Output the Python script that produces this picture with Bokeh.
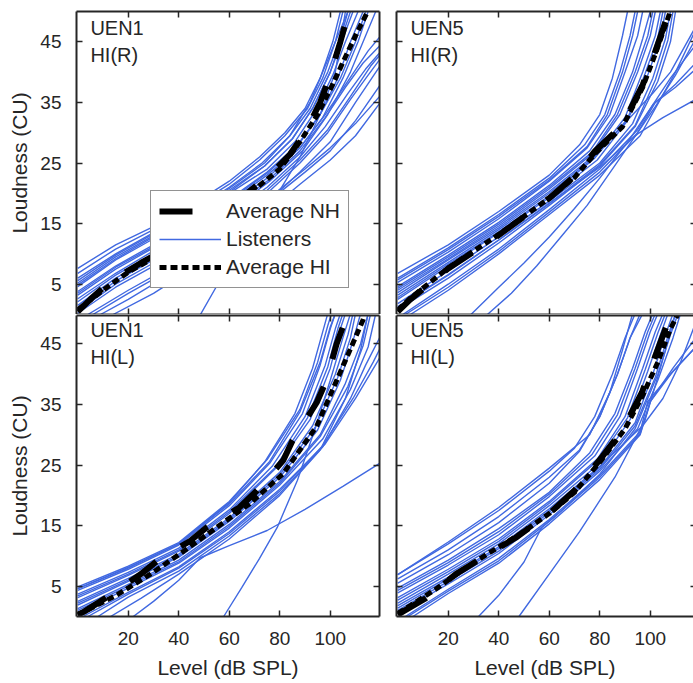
from bokeh.plotting import figure
from bokeh.layouts import gridplot
from bokeh.models import Range1d, LinearAxis, FixedTicker, Label, Legend, LegendItem
from bokeh.embed import file_html
from bokeh.resources import INLINE

# ---------------- data ----------------
x_ticks = [20, 40, 60, 80, 100]
y_ticks = [5, 15, 25, 35, 45]
panel_titles = [("UEN1", "HI(R)"), ("UEN5", "HI(R)"), ("UEN1", "HI(L)"), ("UEN5", "HI(L)")]
legend_labels = ["Average NH", "Listeners", "Average HI"]
x_label = "Level (dB SPL)"
y_label = "Loudness (CU)"

# UEN1 HI(R)
uen1_r_nh_x = [0, 5, 13, 25, 40, 55, 67, 76, 84, 90, 96, 100, 104, 107, 108]
uen1_r_nh_y = [0.5, 2.5, 5.5, 8.5, 12, 16, 20, 23, 26.4, 30, 35, 39.5, 45, 49.5, 51]
uen1_r_hi_x = [0, 10, 20, 35, 50, 65, 72, 80, 88, 95, 101, 106, 110, 113, 116]
uen1_r_hi_y = [0.8, 4, 7, 10.5, 14, 18.5, 21.3, 24, 28.5, 33, 38, 42.5, 46, 48.5, 51]
uen1_r_listener_xs = [
    [0, 15, 30, 45, 60, 72, 82, 90, 96, 101, 104],
    [0, 15, 30, 45, 60, 72, 82, 91, 97, 102, 105],
    [0, 15, 30, 45, 60, 73, 84, 92, 99, 104, 107],
    [0, 15, 30, 45, 60, 74, 85, 93, 100, 105, 109],
    [0, 15, 30, 45, 60, 75, 86, 94, 101, 106, 111],
    [0, 15, 30, 45, 60, 75, 87, 96, 103, 108, 113],
    [0, 15, 30, 45, 60, 75, 88, 97, 105, 111, 115],
    [0, 15, 30, 45, 60, 75, 88, 98, 106, 113, 120],
    [0, 15, 30, 45, 60, 75, 88, 98, 107, 114, 120],
    [0, 15, 30, 45, 60, 75, 88, 99, 108, 115, 120],
    [9, 20, 30, 45, 60, 75, 88, 100, 110, 120],
    [4, 20, 35, 50, 65, 78, 90, 100, 110, 120],
    [14, 30, 45, 60, 75, 88, 100, 110, 120],
    [48.6, 56, 64, 72, 80, 88, 96, 102, 106],
    [0, 15, 30, 45, 60, 74, 84, 92, 98, 103, 107],
    [0, 15, 30, 45, 60, 76, 89, 99, 108, 114, 118],
    [0, 15, 30, 45, 60, 74, 85, 93, 100, 104, 108],
    [0, 15, 30, 45, 60, 75, 87, 96, 104, 110, 114],
    [0, 15, 30, 45, 60, 75, 88, 98, 107, 115, 120],
    [0, 15, 30, 45, 60, 75, 88, 99, 108, 116, 120],
    [6, 20, 35, 50, 65, 78, 90, 100, 110, 120],
]
uen1_r_listener_ys = [
    [7.6, 11.5, 14.5, 18, 22, 26, 30, 34, 39, 45, 50],
    [6.8, 10.8, 14, 17.5, 21.5, 25.5, 29.5, 34, 39, 45, 50],
    [6.0, 10, 13.5, 17, 21, 25, 29.5, 34, 40, 45.5, 50],
    [5.2, 9.5, 13, 16.5, 20.5, 24.5, 29, 34, 40, 45.5, 50],
    [4.6, 9, 12.5, 16, 20, 24, 28.5, 33.5, 39.5, 45, 50],
    [3.8, 8, 11.5, 15, 19, 23.5, 28, 33, 39, 45, 50],
    [3.2, 7.5, 11, 14.5, 18.5, 23, 27.5, 32.5, 39, 45, 50],
    [2.1, 6.5, 10, 13.5, 17.5, 22, 27, 32.5, 37.5, 41.5, 44.5],
    [1.0, 5.5, 9, 12.5, 16.5, 21, 26, 31, 36.5, 40.5, 43.4],
    [0.2, 4.5, 8, 11.5, 15.5, 20, 25, 30, 35.5, 39.5, 42.3],
    [0, 2.5, 5, 9, 13.5, 18.5, 23.5, 28.5, 35, 41.2],
    [0, 4, 7.5, 11.5, 16, 20, 24, 27.5, 31.5, 36.2],
    [0, 3.5, 7.5, 12, 17, 21.5, 25.5, 29.5, 35.1],
    [0, 5.4, 10.5, 15.5, 20.5, 26, 33, 40, 50],
    [5.6, 9.8, 13.3, 16.8, 20.8, 25, 29.5, 35, 41, 46, 50],
    [1.5, 6, 9.5, 13, 17, 22, 27, 33, 40, 46, 50],
    [4.9, 9.2, 12.8, 16.3, 20.2, 24.5, 29, 34, 40, 45, 50],
    [3.5, 7.8, 11.2, 14.8, 18.8, 23.3, 27.8, 33, 39, 45, 50],
    [2.6, 6.8, 10.5, 14, 18, 22.5, 27.5, 33, 38.5, 43.5, 46],
    [0.6, 5, 8.5, 12, 16, 20.5, 25.5, 30.5, 36, 41, 43],
    [0, 3.5, 7, 11, 15.5, 19.5, 23.5, 27, 32, 38],
]

# UEN5 HI(R)
uen5_r_nh_x = [0, 5, 20, 40, 60, 70, 78, 89, 97, 102, 107, 108]
uen5_r_nh_y = [0.5, 2.5, 7.6, 13.1, 19.2, 22.8, 26.9, 31.3, 37.9, 43.4, 49.5, 51]
uen5_r_hi_x = [0, 5, 20, 40, 60, 70, 78, 89, 97, 102, 107.5, 108.5]
uen5_r_hi_y = [0.7, 2.7, 7.7, 13.2, 19.2, 22.6, 26.5, 31, 37.5, 43, 49.5, 51]
uen5_r_listener_xs = [
    [0, 20, 40, 60, 72, 80, 85, 89, 91],
    [0, 20, 40, 60, 74, 82, 88, 92, 94],
    [0, 20, 40, 60, 75, 84, 90, 95, 97],
    [0, 20, 40, 60, 76, 86, 93, 97, 100],
    [0, 20, 40, 60, 77, 88, 95, 100, 102],
    [0, 20, 40, 60, 78, 90, 97, 102, 104],
    [0, 20, 40, 60, 79, 91, 99, 104, 106],
    [0, 20, 40, 60, 80, 93, 101, 106, 108],
    [0, 20, 40, 60, 80, 94, 103, 108, 110],
    [2, 20, 40, 60, 80, 95, 101, 108, 118],
    [5, 20, 40, 60, 80, 96, 102, 110, 118],
    [29, 40, 50, 60, 70, 80, 92, 101, 110, 118],
    [35.5, 45, 55, 65, 75, 85, 95, 102, 110, 118],
    [0, 20, 40, 60, 78, 92, 101, 108, 118],
    [0, 20, 40, 60, 80, 95, 105, 118],
    [0, 20, 40, 60, 75, 83, 89, 93, 95],
    [0, 20, 40, 60, 77, 87, 94, 99, 101],
    [0, 20, 40, 60, 78, 91, 98, 103, 105],
    [0, 20, 40, 60, 80, 94, 102, 107, 109],
    [3, 20, 40, 60, 80, 95, 102, 110, 118],
]
uen5_r_listener_ys = [
    [6.8, 11.5, 17, 23, 28, 33, 39, 46, 50],
    [6, 11, 16.5, 22.5, 28, 33, 40, 46, 50],
    [5.3, 10.3, 15.8, 22, 27.5, 33, 40, 46, 50],
    [4.6, 9.8, 15.2, 21.3, 27, 33, 40, 45.5, 50],
    [4, 9.2, 14.6, 20.7, 26.5, 33, 40, 46, 50],
    [3.2, 8.6, 14, 20, 26, 32.5, 40, 46, 50],
    [2.5, 8, 13.5, 19.3, 25.5, 32, 39.5, 45.5, 50],
    [1.8, 7.2, 12.8, 18.7, 25, 31.5, 39, 45.5, 50],
    [0.8, 6, 11.8, 18, 24.5, 31, 38.5, 45, 50],
    [0, 5, 10.8, 17.3, 24, 30.5, 34.6, 39, 44.5],
    [0, 4, 10, 16.5, 23, 29.5, 34, 40, 47],
    [0, 4.5, 8.5, 12.8, 17.5, 22.5, 29, 34.6, 38, 41.5],
    [0, 3.5, 8, 13, 18, 24, 30, 35, 37.5, 40.5],
    [3.6, 9, 14.3, 20.3, 26.3, 32.5, 36.5, 40, 47.5],
    [1.2, 6.5, 12.3, 18.4, 24.3, 29.8, 32.5, 35.5],
    [5.7, 10.7, 16.2, 22.2, 27.7, 33, 40, 46, 50],
    [4.3, 9.5, 14.9, 21, 26.8, 33, 40, 46, 50],
    [2.8, 8.3, 13.7, 19.6, 25.8, 32.3, 39.8, 45.7, 50],
    [1.3, 6.6, 12.3, 18.3, 24.7, 31.2, 38.7, 45.3, 50],
    [0, 4.5, 10.4, 16.9, 23.5, 30, 34.3, 39.5, 45.5],
]

# UEN1 HI(L)
uen1_l_nh_x = [0, 2.5, 9, 25, 33, 44.6, 51, 64, 71, 81.4, 85, 94.6, 98.5, 102.5, 106.4, 107]
uen1_l_nh_y = [0.3, 0.8, 2.5, 7, 9.7, 12.5, 14.7, 18, 20.8, 25.8, 29, 35.3, 39, 45, 49.4, 51]
uen1_l_hi_x = [0, 2.5, 15.7, 28.8, 42, 55, 68, 81.4, 94.6, 101, 107.8, 113, 114]
uen1_l_hi_y = [0.3, 0.8, 3.6, 7, 10.8, 14.7, 18.6, 23.6, 31.4, 37.5, 44, 49, 50.5]
uen1_l_listener_xs = [
    [0, 20, 40, 60, 75, 88, 95, 99, 100.5],
    [0, 20, 40, 60, 76, 89, 96, 100, 102],
    [0, 20, 40, 60, 77, 90, 98, 102, 104],
    [0, 20, 40, 60, 78, 92, 100, 104, 106],
    [0, 20, 40, 60, 80, 93, 102, 107, 109],
    [0, 20, 40, 60, 80, 95, 104, 109, 112],
    [0, 20, 40, 60, 80, 96, 106, 112, 115],
    [0, 20, 40, 60, 80, 97, 108, 115, 118],
    [2, 20, 40, 60, 80, 98, 110, 120],
    [8, 20, 40, 60, 80, 97, 108, 114, 120],
    [22, 30, 40, 48.5, 60, 75, 90, 105, 120],
    [57.8, 65, 72, 79, 87, 94, 100, 105, 108],
    [13, 25, 40, 60, 80, 96, 106, 112, 115],
    [0, 20, 40, 60, 74, 86, 93, 97, 99],
    [0, 20, 40, 60, 76, 88, 96, 100, 102],
    [0, 20, 40, 60, 78, 91, 99, 103, 105],
    [0, 20, 40, 60, 80, 94, 103, 108, 110],
    [0, 20, 40, 60, 80, 96, 107, 113, 116],
    [4, 20, 40, 60, 80, 97, 109, 117, 120],
]
uen1_l_listener_ys = [
    [4.9, 8.3, 12.2, 19, 25.9, 34.2, 42, 48, 50],
    [4.3, 7.8, 11.8, 18.3, 25.3, 33.5, 41.5, 47.5, 50],
    [3.7, 7.3, 11.3, 17.6, 24.8, 33, 41.5, 47.5, 50],
    [3.1, 6.8, 10.8, 17, 24.3, 32.5, 41, 47.5, 50],
    [2.5, 6.3, 10.3, 16.3, 23.8, 31.5, 40, 46.5, 50],
    [1.9, 5.8, 9.8, 15.7, 23, 30.8, 39, 45.5, 50],
    [1.3, 5.3, 9.3, 15.2, 22.3, 30, 38.5, 45, 50],
    [0.6, 4.7, 8.8, 14.6, 21.7, 29.3, 37.5, 44.5, 50],
    [0, 4, 8.2, 14, 21, 28.5, 36, 43],
    [0, 3.2, 7.5, 13.3, 20.3, 28, 36, 41.5, 46.4],
    [0, 2.5, 6, 9.7, 11.7, 14.2, 17.7, 21.5, 25.4],
    [0, 4.8, 9.6, 14.7, 22.5, 31, 39, 46, 50],
    [0, 3, 7, 12.8, 20, 27.5, 36, 44, 50],
    [4.6, 8.1, 12, 18.8, 25.5, 33.5, 41, 47, 50],
    [4.6, 8, 12, 18.6, 25.6, 33.8, 42, 47.8, 50],
    [3.4, 7, 11, 17.3, 24.5, 32.8, 41.2, 47.5, 50],
    [2.2, 6, 10, 16, 23.4, 31.2, 39.5, 46, 50],
    [1, 5, 9, 14.9, 22, 29.7, 38, 44.7, 50],
    [0, 3.7, 8, 13.7, 20.7, 28.2, 36, 42, 44.5],
]

# UEN5 HI(L)
uen5_l_nh_x = [0, 2, 11, 23, 33.5, 46.7, 60, 70, 81, 89, 96.7, 102, 106, 108.5, 109]
uen5_l_nh_y = [0.3, 0.8, 3, 7, 9.7, 13, 17, 20.8, 26.4, 30.8, 37, 43, 47.5, 50, 51]
uen5_l_hi_x = [0, 5, 15, 25, 35, 48, 60, 70, 81, 90, 97, 103, 108, 111, 112]
uen5_l_hi_y = [0.5, 1.8, 4.5, 7.5, 10.2, 13.5, 17, 20.5, 26, 31, 36.5, 42, 47.5, 50, 51]
uen5_l_listener_xs = [
    [0, 20, 40, 60, 70, 78, 85, 90, 94],
    [0, 20, 40, 60, 72, 80, 87, 92, 96],
    [0, 20, 40, 60, 76, 86, 93, 98, 101],
    [0, 20, 40, 60, 78, 88, 95, 100, 103],
    [0, 20, 40, 60, 79, 90, 97, 102, 105],
    [0, 20, 40, 60, 80, 92, 99, 104, 107],
    [0, 20, 40, 60, 80, 94, 101, 106, 109],
    [0, 20, 40, 60, 80, 95, 103, 109, 112],
    [3, 20, 40, 60, 80, 96, 99, 108, 118],
    [6, 20, 40, 60, 80, 96, 100, 109, 118],
    [32, 40, 50, 57, 65, 80, 94, 103, 108, 111],
    [48, 60, 72, 86, 98, 104, 110],
    [0, 20, 40, 60, 76, 84, 89, 93],
    [0, 20, 40, 60, 80, 97, 105, 112, 118],
    [0, 20, 40, 60, 77, 87, 94, 99, 102],
    [0, 20, 40, 60, 79, 91, 98, 103, 106],
    [0, 20, 40, 60, 80, 94, 102, 107, 110],
    [4, 20, 40, 60, 80, 96, 100, 109, 118],
    [0, 20, 40, 60, 72, 80, 87, 92, 97],
]
uen5_l_listener_ys = [
    [6.9, 12, 17.5, 24, 27.8, 33, 40, 46, 50],
    [6.2, 11, 16.5, 23, 27.5, 33, 40, 46, 50],
    [4.7, 9.3, 14.5, 20.5, 27, 33.5, 41, 47, 50],
    [3.9, 8.5, 13.5, 19.8, 26.5, 33, 41, 47, 50],
    [3.1, 7.8, 12.8, 19, 26, 33, 41, 47, 50],
    [2.2, 7, 12, 18.3, 25.3, 32.5, 40.5, 46.5, 50],
    [1.4, 6.2, 11.2, 17.5, 24.6, 32, 40, 46.5, 50],
    [0.6, 5.4, 10.4, 16.8, 24, 31, 39, 46, 50],
    [0, 4.5, 9.6, 16, 23.3, 30.5, 35.5, 40, 44.5],
    [0, 3.8, 8.8, 15.3, 22.6, 30, 35.5, 41, 46],
    [0, 3.5, 9, 14.7, 17.5, 23.5, 31, 40, 46.5, 50],
    [0, 7, 14, 23, 32.5, 41, 50],
    [6.9, 12.3, 18, 24.5, 30, 37, 44, 50],
    [1.8, 6.5, 11.5, 17.8, 24.8, 31.5, 36, 42, 48.5],
    [4.3, 8.9, 14, 20.2, 26.8, 33.3, 41, 47, 50],
    [2.7, 7.4, 12.4, 18.7, 25.7, 32.8, 40.8, 46.8, 50],
    [1, 5.8, 10.8, 17.2, 24.3, 31.5, 39.5, 46.3, 50],
    [0, 4.2, 9.2, 15.7, 23, 30.2, 35.5, 40.5, 44.5],
    [5.5, 10.2, 15.5, 22, 27.3, 33, 40, 46, 50],
]

# ---------------- styling ----------------
FONT = "Liberation Sans"
INK = "#262626"
BLUE = "#4169e1"

LEFT_W, RIGHT_W = 387, 306
TOP_H, BOT_H = 314, 369


def add_axis(p, side, ticks, labels=False, title=None, line=True, tick_in=6):
    ax = LinearAxis(ticker=FixedTicker(ticks=ticks, minor_ticks=[]))
    ax.major_tick_in = tick_in
    ax.major_tick_out = 0
    ax.minor_tick_line_color = None
    ax.major_tick_line_color = INK
    ax.major_tick_line_width = 1.5
    ax.axis_line_color = INK if line else None
    ax.axis_line_width = 2
    if labels:
        ax.major_label_text_font = FONT
        ax.major_label_text_font_size = "19px"
        ax.major_label_text_color = INK
        ax.major_label_standoff = 15 if side == "left" else 15
    else:
        ax.major_label_text_font_size = "0px"
        ax.major_label_text_color = None
        ax.major_label_standoff = 0
    if title:
        ax.axis_label = title
        ax.axis_label_text_font = FONT
        ax.axis_label_text_font_size = "21px"
        ax.axis_label_text_font_style = "normal"
        ax.axis_label_text_color = INK
        ax.axis_label_standoff = 6 if side == "left" else 8
    p.add_layout(ax, side)
    return ax


def make_panel(col, row, titles, nh_x, nh_y, hi_x, hi_y, lis_xs, lis_ys, with_legend=False):
    left_col = col == 0
    top_row = row == 0
    width = LEFT_W if left_col else RIGHT_W
    height = TOP_H if top_row else BOT_H
    mbl, mbr = (76, 8) if left_col else (9, 0)
    mbt, mbb = (11, 0) if top_row else (1, 67)
    frame_w = width - mbl - mbr
    x_end = -0.5 + frame_w / 2.525
    y_end = 50 if top_row else 49.7
    p = figure(width=width, height=height, output_backend="svg", toolbar_location=None,
               x_range=Range1d(-0.5, x_end), y_range=Range1d(0, y_end),
               x_axis_location=None, y_axis_location=None,
               min_border_left=mbl, min_border_right=mbr,
               min_border_top=mbt, min_border_bottom=mbb)
    p.outline_line_color = None
    p.xgrid.visible = False
    p.ygrid.visible = False
    p.background_fill_color = "white"
    p.border_fill_color = "white"

    add_axis(p, "left", y_ticks, labels=left_col, title=y_label if left_col else None)
    add_axis(p, "below", x_ticks, labels=not top_row, title=None if top_row else x_label)
    add_axis(p, "above", x_ticks)
    add_axis(p, "right", y_ticks, line=left_col, tick_in=6 if left_col else 3)

    r_lis = p.multi_line(lis_xs, lis_ys, line_color=BLUE, line_width=1.4)
    r_nh = p.line(nh_x, nh_y, line_color="black", line_width=6, line_dash="33 29")
    r_hi = p.line(hi_x, hi_y, line_color="black", line_width=5, line_dash="7 4")

    p.add_layout(Label(x=5, y=49.1, text=titles[0], text_baseline="top", text_font=FONT,
                       text_font_size="20px", text_color=INK))
    p.add_layout(Label(x=5, y=44.6, text=titles[1], text_baseline="top", text_font=FONT,
                       text_font_size="20px", text_color=INK))

    if with_legend:
        legend = Legend(items=[LegendItem(label=legend_labels[0], renderers=[r_nh]),
                               LegendItem(label=legend_labels[1], renderers=[r_lis]),
                               LegendItem(label=legend_labels[2], renderers=[r_hi])],
                        location=(74, 26), orientation="vertical",
                        border_line_color=INK, border_line_width=1.5,
                        background_fill_color="white", background_fill_alpha=1.0,
                        label_text_font=FONT, label_text_font_size="21px", label_text_color=INK,
                        glyph_width=62, glyph_height=24, label_height=24,
                        label_standoff=5, spacing=4, padding=8, margin=0)
        p.add_layout(legend)
    return p


p1 = make_panel(0, 0, panel_titles[0], uen1_r_nh_x, uen1_r_nh_y, uen1_r_hi_x, uen1_r_hi_y,
                uen1_r_listener_xs, uen1_r_listener_ys, with_legend=True)
p2 = make_panel(1, 0, panel_titles[1], uen5_r_nh_x, uen5_r_nh_y, uen5_r_hi_x, uen5_r_hi_y,
                uen5_r_listener_xs, uen5_r_listener_ys)
p3 = make_panel(0, 1, panel_titles[2], uen1_l_nh_x, uen1_l_nh_y, uen1_l_hi_x, uen1_l_hi_y,
                uen1_l_listener_xs, uen1_l_listener_ys)
p4 = make_panel(1, 1, panel_titles[3], uen5_l_nh_x, uen5_l_nh_y, uen5_l_hi_x, uen5_l_hi_y,
                uen5_l_listener_xs, uen5_l_listener_ys)

grid = gridplot([[p1, p2], [p3, p4]], toolbar_location=None)

open("out.html", "w").write(file_html(grid, INLINE))
